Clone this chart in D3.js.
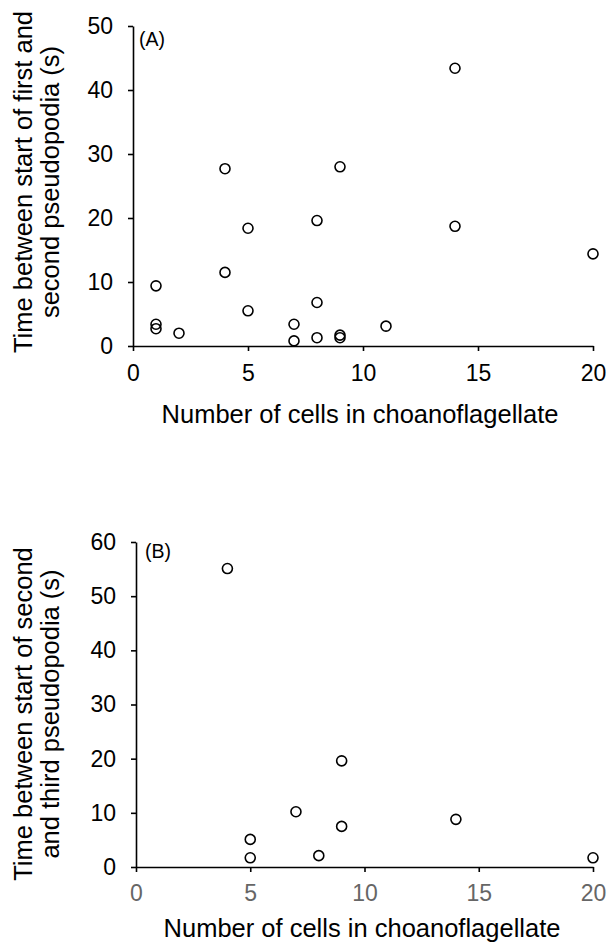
<!DOCTYPE html>
<html>
<head>
<meta charset="utf-8">
<script src="https://cdn.jsdelivr.net/npm/d3@7"></script>
<style>
  body { margin: 0; background: #fff; }
  svg { display: block; font-family: "Liberation Sans", Arial, Helvetica, sans-serif; }
</style>
</head>
<body>
<script>
// Panel A: first -> second pseudopodium
const cellsA = [1, 1, 1, 2, 4, 4, 5, 5, 7, 7, 8, 8, 8, 9, 9, 9, 11, 14, 14, 20];
const timeA = [9.4, 3.4, 2.7, 2.0, 27.7, 11.5, 18.4, 5.5, 3.4, 0.8, 19.6, 6.8, 1.3, 28.0, 1.7, 1.3, 3.1, 43.4, 18.7, 14.4];

// Panel B: second -> third pseudopodium
const cellsB = [4, 5, 5, 7, 8, 9, 9, 14, 20];
const timeB = [55.1, 5.1, 1.7, 10.2, 2.1, 19.6, 7.5, 8.8, 1.7];

const xTicks = [0, 5, 10, 15, 20];
const yTicksA = [0, 10, 20, 30, 40, 50];
const yTicksB = [0, 10, 20, 30, 40, 50, 60];

const xTitle = "Number of cells in choanoflagellate";
const yTitleA = ["Time between start of first and", "second pseudopodia (s)"];
const yTitleB = ["Time between start of second", "and third pseudopodia (s)"];

const WIDTH = 611;
const HEIGHT = 942;
const TICK_SIZE = 5;
const FONT_TICK = "23px";
const FONT_TITLE = "25.5px";

const svg = d3.select("body").append("svg")
    .attr("width", WIDTH)
    .attr("height", HEIGHT);

svg.append("rect").attr("width", WIDTH).attr("height", HEIGHT).attr("fill", "#fff");

function drawPanel(opts) {
    const x = d3.scaleLinear().domain([0, 20]).range([opts.left, opts.right]);
    const y = d3.scaleLinear().domain([0, opts.yMax]).range([opts.bottom, opts.top]);

    const g = svg.append("g");

    // x axis
    const xAxis = g.append("g")
        .attr("transform", `translate(0,${opts.bottom})`)
        .call(d3.axisBottom(x).tickValues(xTicks).tickSize(TICK_SIZE).tickPadding(opts.xPad).tickSizeOuter(0));
    xAxis.selectAll("text").style("font-size", FONT_TICK).attr("fill", opts.xTickColor);

    // y axis
    const yAxis = g.append("g")
        .attr("transform", `translate(${opts.left},0)`)
        .call(d3.axisLeft(y).tickValues(opts.yTicks).tickSize(TICK_SIZE).tickPadding(15).tickSizeOuter(0));
    yAxis.selectAll("text").style("font-size", FONT_TICK).attr("fill", "#000");

    g.selectAll(".domain, .tick line").attr("stroke", "#000").attr("stroke-width", 1.6);
    g.selectAll("text").style("font-family", "'Liberation Sans', Arial, sans-serif");

    // points
    g.append("g")
        .selectAll("circle")
        .data(opts.xs.map((v, i) => [v, opts.ys[i]]))
        .join("circle")
        .attr("cx", d => x(d[0]))
        .attr("cy", d => y(d[1]))
        .attr("r", 5)
        .attr("fill", "none")
        .attr("stroke", "#000")
        .attr("stroke-width", 1.6);

    // panel letter
    g.append("text")
        .attr("x", opts.left + opts.letterDx)
        .attr("y", opts.top + opts.letterDy)
        .style("font-size", "19.5px")
        .text(opts.letter);

    // x title
    g.append("text")
        .attr("x", opts.titleX)
        .attr("y", opts.bottom + opts.titleDy)
        .attr("text-anchor", "middle")
        .style("font-size", FONT_TITLE)
        .text(xTitle);

    // y title, two lines
    opts.yTitle.forEach((line, i) => {
        g.append("text")
            .attr("transform", `translate(${32 + i * 27},${opts.yTitleCenter}) rotate(-90)`)
            .attr("text-anchor", "middle")
            .style("font-size", FONT_TITLE)
            .text(line);
    });
}

drawPanel({
    xs: cellsA, ys: timeA, yMax: 50, yTicks: yTicksA,
    left: 133, right: 593, top: 26, bottom: 346,
    letter: "(A)", letterDx: 6, letterDy: 20, xTickColor: "#000", xPad: 14,
    titleX: 360, titleDy: 77,
    yTitle: yTitleA, yTitleCenter: 182
});

drawPanel({
    xs: cellsB, ys: timeB, yMax: 60, yTicks: yTicksB,
    left: 136, right: 593, top: 542, bottom: 867,
    letter: "(B)", letterDx: 9, letterDy: 16, xTickColor: "#666", xPad: 13,
    titleX: 362, titleDy: 70,
    yTitle: yTitleB, yTitleCenter: 714
});
</script>
</body>
</html>
